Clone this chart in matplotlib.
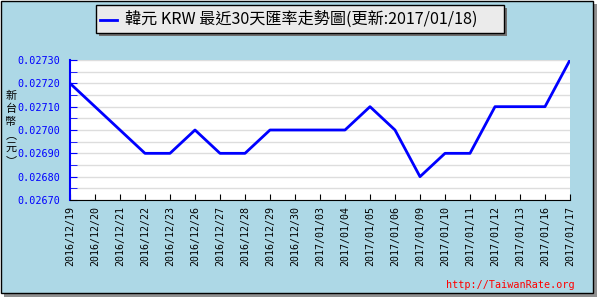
import matplotlib
matplotlib.use("Agg")
import matplotlib.pyplot as plt
from matplotlib.patches import Rectangle
from matplotlib.lines import Line2D
import numpy as np

dates = ["2016/12/19", "2016/12/20", "2016/12/21", "2016/12/22", "2016/12/23",
         "2016/12/26", "2016/12/27", "2016/12/28", "2016/12/29", "2016/12/30",
         "2017/01/03", "2017/01/04", "2017/01/05", "2017/01/06", "2017/01/09",
         "2017/01/10", "2017/01/11", "2017/01/12", "2017/01/13", "2017/01/16",
         "2017/01/17"]
rates = [0.02720, 0.02710, 0.02700, 0.02690, 0.02690,
         0.02700, 0.02690, 0.02690, 0.02700, 0.02700,
         0.02700, 0.02700, 0.02710, 0.02700, 0.02680,
         0.02690, 0.02690, 0.02710, 0.02710, 0.02710,
         0.02730]
yticks = [0.0267, 0.0268, 0.0269, 0.0270, 0.0271, 0.0272, 0.0273]
title = "韓元 KRW 最近30天匯率走勢圖(更新:2017/01/18)"
ylabel_chars = ["新", "台", "幣", "︵", "元", "︶"]

W, H = 600, 300
fig = plt.figure(figsize=(6, 3), dpi=100)
fig.patch.set_facecolor("white")

def px(x, y, w, h):
    return (x / W, 1 - (y + h) / H, w / W, h / H)

# shadow and frame
fig.patches.append(Rectangle((4 / W, 1 - 297 / H), 593 / W, 293 / H, transform=fig.transFigure,
                             facecolor="#909090", edgecolor="none", zorder=-2))
fig.patches.append(Rectangle((0.5 / W, 1 - 292.5 / H), 592 / W, 292 / H, transform=fig.transFigure,
                             facecolor="#ADD8E6", edgecolor="black", linewidth=1, zorder=-1))

ax = fig.add_axes(px(70, 60, 500, 140))
ax.set_zorder(1)
ax.set_facecolor("white")
x = np.arange(len(dates))
ax.plot(x, rates, color="#0000FF", linewidth=2, zorder=3)
ax.set_xlim(0, len(dates) - 1)
ax.set_ylim(yticks[0], yticks[-1])
ax.set_yticks(yticks)
ax.set_yticklabels([f"{v:.5f}" for v in yticks], color="#0000FF",
                   fontsize=7.3, family="DejaVu Sans Mono")
ax.set_yticks([v + 0.00005 for v in yticks[:-1]], minor=True)
ax.grid(True, which="both", axis="y", color="#DDDDDD", linewidth=1)
ax.set_xticks(x)
ax.set_xticklabels(dates, rotation=90, fontsize=7.2, family="DejaVu Sans Mono")
ax.tick_params(axis="x", direction="in", length=4, color="black", pad=4)
ax.tick_params(axis="y", which="major", direction="in", length=5, color="#0000FF", pad=7)
ax.tick_params(axis="y", which="minor", direction="in", length=5, color="#0000FF")
for s in ["top", "right"]:
    ax.spines[s].set_visible(False)
ax.spines["left"].set_color("#0000FF")
ax.spines["left"].set_linewidth(1.5)
ax.spines["bottom"].set_color("black")

# y label, stacked vertically
ycent = [96, 109, 122, 135, 148, 161]
for ch, yc in zip(ylabel_chars, ycent):
    fig.text(11 / W, 1 - yc / H, ch, family=["Noto Sans CJK TC", "DejaVu Sans"],
             fontsize=8, ha="center", va="center")

# legend box
fig.patches.append(Rectangle((99 / W, 1 - 36 / H), 408 / W, 28 / H, transform=fig.transFigure,
                             facecolor="#707070", edgecolor="none", zorder=2))
fig.patches.append(Rectangle((96 / W, 1 - 33 / H), 408 / W, 28 / H, transform=fig.transFigure,
                             facecolor="#EBEBEB", edgecolor="black", linewidth=1, zorder=3))
fig.lines.append(Line2D([100 / W, 117 / W], [1 - 20 / H, 1 - 20 / H], transform=fig.transFigure,
                        color="#0000FF", linewidth=2, zorder=4))
fig.text(125 / W, 1 - 19 / H, title, family=["Noto Sans CJK TC", "DejaVu Sans"],
         fontsize=11.6, ha="left", va="center", zorder=5)

fig.text(575 / W, 1 - 285 / H, "http://TaiwanRate.org", color="red", fontsize=7.3,
         family="DejaVu Sans Mono", ha="right", va="center")

fig.savefig("out.png", dpi=100)
